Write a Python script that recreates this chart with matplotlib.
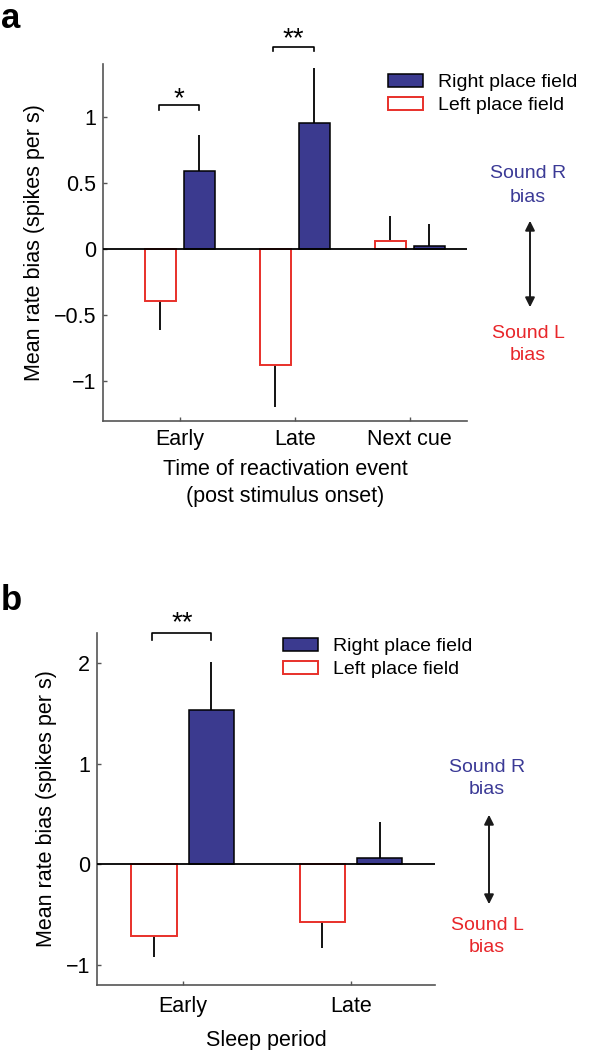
import matplotlib
matplotlib.use("Agg")
import matplotlib.pyplot as plt
from matplotlib.patches import Patch, FancyArrowPatch

plt.rcParams['font.family'] = ['Liberation Sans', 'DejaVu Sans']

# ---- data ----
cats_a = ["Early", "Late", "Next cue"]
right_a = [0.59, 0.957, 0.02]
right_err_a = [0.27, 0.41, 0.17]
left_a = [-0.39, -0.876, 0.063]
left_err_a = [0.22, 0.32, 0.19]
yticks_a = [-1, -0.5, 0, 0.5, 1]
yticklabels_a = ["\u22121", "\u22120.5", "0", "0.5", "1"]

cats_b = ["Early", "Late"]
right_b = [1.53, 0.067]
right_err_b = [0.48, 0.35]
left_b = [-0.71, -0.57]
left_err_b = [0.21, 0.26]
yticks_b = [-1, 0, 1, 2]
yticklabels_b = ["\u22121", "0", "1", "2"]

BLUE = "#3b3a8f"
RED = "#e8302a"
TXT_BLUE = "#3b3a96"
TXT_RED = "#e8262a"
SPINE = "#555555"
FS = 14        # legend / side notes
FS_TICK = 15.5
FS_LAB = 15.5

W, H = 589, 1050
fig = plt.figure(figsize=(W / 100, H / 100), dpi=100)


def fx(px):
    return px / W


def fy(py):
    return 1 - py / H


def draw_panel(ax, cats, right, right_err, left, left_err, xlim, ylim, yt, ytl, xpad):
    xs = list(range(1, len(cats) + 1))
    off, wid = 0.17, 0.27
    xl = [x - off for x in xs]
    xr = [x + off for x in xs]
    for x, v, e in zip(xl, left, left_err):
        s = 1 if v >= 0 else -1
        ax.vlines(x, v, v + s * e, color="black", lw=1.3, zorder=1)
    for x, v, e in zip(xr, right, right_err):
        s = 1 if v >= 0 else -1
        ax.vlines(x, v, v + s * e, color="black", lw=1.3, zorder=1)
    ax.bar(xl, left, width=wid, facecolor="white", edgecolor=RED, lw=1.4, zorder=2)
    ax.bar(xr, right, width=wid, facecolor=BLUE, edgecolor="black", lw=1.1, zorder=2)
    ax.axhline(0, color="black", lw=1.3, zorder=3)
    ax.set_xlim(*xlim)
    ax.set_ylim(*ylim)
    ax.set_xticks(xs)
    ax.set_xticklabels(cats, fontsize=FS_TICK)
    ax.set_yticks(yt)
    ax.set_yticklabels(ytl, fontsize=FS_TICK)
    for s in ["top", "right"]:
        ax.spines[s].set_visible(False)
    for s in ["left", "bottom"]:
        ax.spines[s].set_color(SPINE)
        ax.spines[s].set_linewidth(1.2)
    ax.tick_params(direction="in", length=3, width=1.0, color=SPINE)
    ax.tick_params(axis="y", pad=5)
    ax.tick_params(axis="x", pad=xpad)
    ax.set_ylabel("Mean rate bias (spikes per s)", fontsize=FS_LAB, labelpad=6)


def bracket(ax, x1, x2, y, d, stars, ys):
    ax.plot([x1, x1, x2, x2], [y - d, y, y, y - d], color="black", lw=1.2, clip_on=False)
    ax.text((x1 + x2) / 2, ys, stars, ha="center", va="center", fontsize=20, clip_on=False)


def legend(ax, x, y):
    ax.legend(handles=[Patch(facecolor=BLUE, edgecolor="black", lw=1.1, label="Right place field"),
                       Patch(facecolor="white", edgecolor=RED, lw=1.4, label="Left place field")],
              loc="upper left", bbox_to_anchor=(fx(x), fy(y)), bbox_transform=fig.transFigure,
              frameon=False, fontsize=FS, handlelength=1.8, handleheight=0.65,
              handletextpad=0.75, labelspacing=0.27, borderpad=0, borderaxespad=0)


def side_note(xc, y1, y2, ya, yb, y3, y4):
    fig.text(fx(xc), fy(y1), "Sound R", color=TXT_BLUE, fontsize=FS, ha="center", va="center")
    fig.text(fx(xc), fy(y2), "bias", color=TXT_BLUE, fontsize=FS, ha="center", va="center")
    fig.text(fx(xc), fy(y3), "Sound L", color=TXT_RED, fontsize=FS, ha="center", va="center")
    fig.text(fx(xc), fy(y4), "bias", color=TXT_RED, fontsize=FS, ha="center", va="center")
    fig.add_artist(FancyArrowPatch(
        (fx(xc + 2), fy(ya)), (fx(xc + 2), fy(yb)), transform=fig.transFigure,
        arrowstyle="<|-|>", mutation_scale=14, color="#1a1a1a", lw=1.4))


# ---- panel a ----
axa = fig.add_axes([fx(103), fy(421), fx(467) - fx(103), fy(64) - fy(421)])
draw_panel(axa, cats_a, right_a, right_err_a, left_a, left_err_a,
           (0.33, 3.5), (-1.30, 1.40), yticks_a, yticklabels_a, 6)
axa.set_xlabel("Time of reactivation event\n(post stimulus onset)", fontsize=FS_LAB,
               linespacing=1.4, labelpad=6)
bracket(axa, 0.82, 1.17, 1.09, 0.035, "*", 1.13)
bracket(axa, 1.81, 2.17, 1.53, 0.035, "**", 1.585)
legend(axa, 388, 74)
side_note(528, 174, 197, 218, 310, 333, 355)
fig.text(fx(1), fy(18), "a", fontsize=25, fontweight="bold", ha="left", va="center")

# ---- panel b ----
axb = fig.add_axes([fx(97), fy(985), fx(435) - fx(97), fy(633) - fy(985)])
draw_panel(axb, cats_b, right_b, right_err_b, left_b, left_err_b,
           (0.49, 2.5), (-1.2, 2.3), yticks_b, yticklabels_b, 8)
axb.set_xlabel("Sleep period", fontsize=FS_LAB, labelpad=9)
bracket(axb, 0.82, 1.17, 2.30, 0.07, "**", 2.40)
legend(axb, 283, 638)
side_note(487, 767, 790, 812, 907, 925, 947)
fig.text(fx(1), fy(600), "b", fontsize=25, fontweight="bold", ha="left", va="center")

fig.savefig("out.png", dpi=100)
